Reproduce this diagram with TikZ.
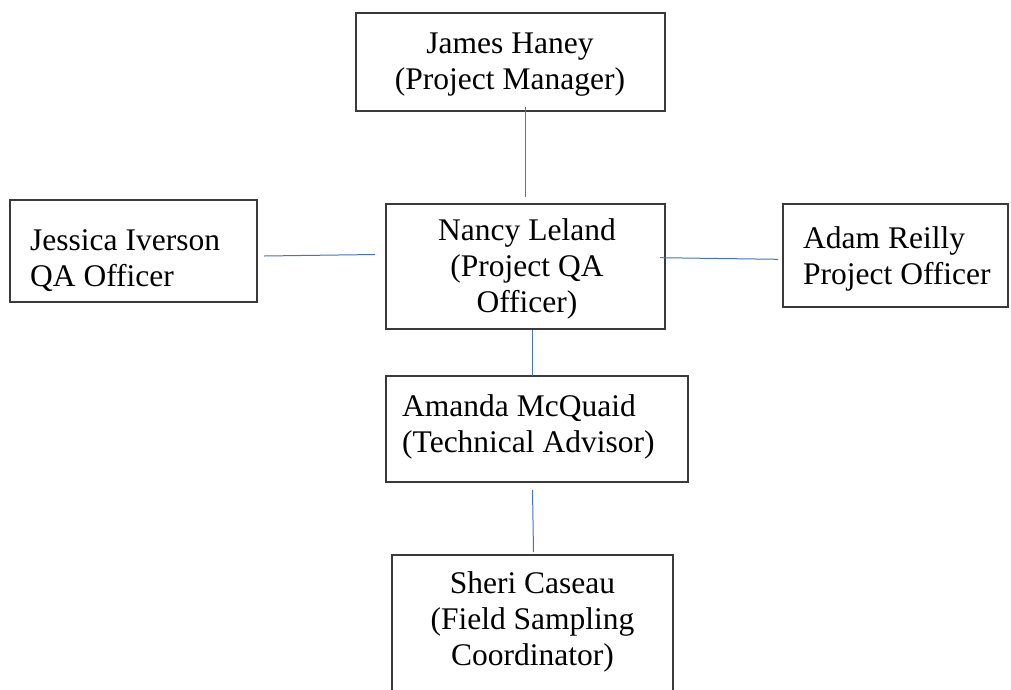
\documentclass[tikz,border=0pt]{standalone}
\usepackage{fontspec}
\setmainfont{Liberation Serif}
\definecolor{linkblue}{HTML}{4472C4}
\definecolor{boxgray}{HTML}{3A3A3A}
\begin{document}
\begin{tikzpicture}[x=1pt,y=-1pt,
  box/.style={draw=boxgray, line width=1.3pt, rectangle, inner sep=0pt},
  txt/.style={inner sep=0pt, font=\fontsize{31.5pt}{35.7pt}\selectfont},
  ctxt/.style={txt, align=center, anchor=base},
  ltxt/.style={txt, align=left, anchor=base west},
  link/.style={draw=linkblue, line width=1pt}]
\useasboundingbox (0,0) rectangle (1011,689);
\clip (0,0) rectangle (1011,689);
% boxes
\node[box, minimum width=309pt, minimum height=98pt]  (james)   at (510.5,62) {};
\node[box, minimum width=247pt, minimum height=102pt] (jessica) at (133.5,251) {};
\node[box, minimum width=279pt, minimum height=125pt] (nancy)   at (525.5,266.5) {};
\node[box, minimum width=225pt, minimum height=103pt] (adam)    at (895.5,255.5) {};
\node[box, minimum width=302pt, minimum height=106pt] (amanda)  at (537,429) {};
\node[box, minimum width=281pt, minimum height=155pt] (sheri)   at (532.5,632.5) {};
% texts (anchored at the baseline of the last line)
\node[ctxt] (jamesT)   at (510,89)    {James Haney\\(Project Manager)};
\node[ltxt] (jessicaT) at (30,286)    {Jessica Iverson\\QA Officer};
\node[ctxt] (nancyT)   at (527,312)   {Nancy Leland\\(Project QA\\Officer)};
\node[ltxt] (adamT)    at (803,284)   {Adam Reilly\\Project Officer};
\node[ltxt] (amandaT)  at (402,452)   {Amanda McQuaid\\(Technical Advisor)};
\node[ctxt] (sheriT)   at (532.5,665) {Sheri Caseau\\(Field Sampling\\Coordinator)};
% connector ends
\coordinate (jn1) at (525.5,107);   \coordinate (jn2) at (525.5,197);
\coordinate (sn1) at (264,256);     \coordinate (sn2) at (375,254.5);
\coordinate (na1) at (660,257.7);   \coordinate (na2) at (778,259.3);
\coordinate (nm1) at (532.5,330);   \coordinate (nm2) at (532.5,376);
\coordinate (ms1) at (532.5,490);   \coordinate (ms2) at (533.5,552);
\draw[link] (jn1) -- (jn2);
\draw[link] (sn1) -- (sn2);
\draw[link] (na1) -- (na2);
\draw[link] (nm1) -- (nm2);
\draw[link] (ms1) -- (ms2);
\end{tikzpicture}
\end{document}
